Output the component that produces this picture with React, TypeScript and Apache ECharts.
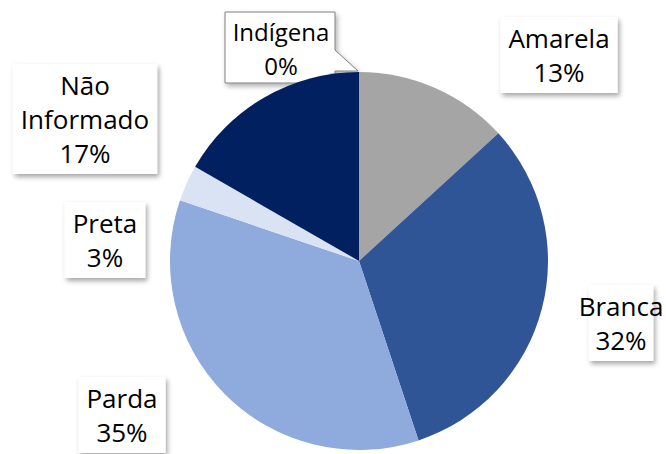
import React, { useEffect, useRef } from "react";
import * as echarts from "echarts";

const categories = ["Amarela", "Branca", "Parda", "Preta", "Não\nInformado", "Indígena"];
const values = [13.2, 31.7, 35.3, 3.1, 16.7, 0];
const colors = ["#A5A5A5", "#2F5597", "#8FAADC", "#DAE3F3", "#002060", "#5B9BD5"];

// label block centres (layout only)
const labelPos: [number, number][] = [
  [559, 55],
  [621, 323],
  [122, 415],
  [105, 240],
  [85, 119],
  [281, 48],
];

export default function App() {
  const ref = useRef<HTMLDivElement>(null);
  useEffect(() => {
    if (!ref.current) return;
    const chart = echarts.init(ref.current, undefined, { renderer: "svg" });
    const total = values.reduce((a, b) => a + b, 0);
    const pct = values.map((v) => Math.round((v / total) * 100));
    const font = "'Open Sans', sans-serif";
    chart.setOption({
      animation: false,
      backgroundColor: "#ffffff",
      series: [
        {
          type: "pie",
          center: [359, 261],
          radius: 189,
          startAngle: 90,
          clockwise: true,
          stillShowZeroSum: true,
          data: categories.map((c, i) => ({
            name: c,
            value: values[i],
            itemStyle: { color: colors[i] },
            label: i === 5 ? { show: false } : undefined,
          })),
          label: {
            show: true,
            formatter: (p: any) => `${p.name}\n${pct[p.dataIndex]}%`,
            fontFamily: font,
            fontSize: 26,
            lineHeight: 34,
            color: "#000000",
            backgroundColor: "#ffffff",
            padding: [4, 8, 4, 8],
            overflow: "none",
            shadowBlur: 5,
            shadowColor: "rgba(0,0,0,0.35)",
            shadowOffsetX: 2,
            shadowOffsetY: 3,
            align: "center",
          },
          labelLine: { show: false },
          labelLayout: (params: any) => {
            const pos = labelPos[params.dataIndex];
            return { x: pos[0], y: pos[1], align: "center", verticalAlign: "middle" };
          },
        },
      ],
      graphic: [
        {
          type: "group",
          z: 10,
          children: [
            {
              type: "polygon",
              shape: {
                points: [
                  [225, 12],
                  [335, 12],
                  [335, 50],
                  [358, 71],
                  [335, 71],
                  [335, 83],
                  [225, 83],
                ],
              },
              style: {
                fill: "#ffffff",
                stroke: "#7f7f7f",
                lineWidth: 1,
                shadowBlur: 5,
                shadowColor: "rgba(0,0,0,0.3)",
                shadowOffsetX: 2,
                shadowOffsetY: 3,
              },
            },
            {
              type: "text",
              x: labelPos[5][0],
              y: labelPos[5][1],
              style: {
                text: `${categories[5]}\n${pct[5]}%`,
                fontFamily: font,
                fontSize: 24,
                lineHeight: 34,
                fill: "#000000",
                align: "center",
                verticalAlign: "middle",
              },
            },
          ],
        },
      ],
    });
    return () => chart.dispose();
  }, []);
  return (
    <div
      ref={ref}
      style={{ position: "fixed", left: 0, top: 0, width: 666, height: 454 }}
    />
  );
}
